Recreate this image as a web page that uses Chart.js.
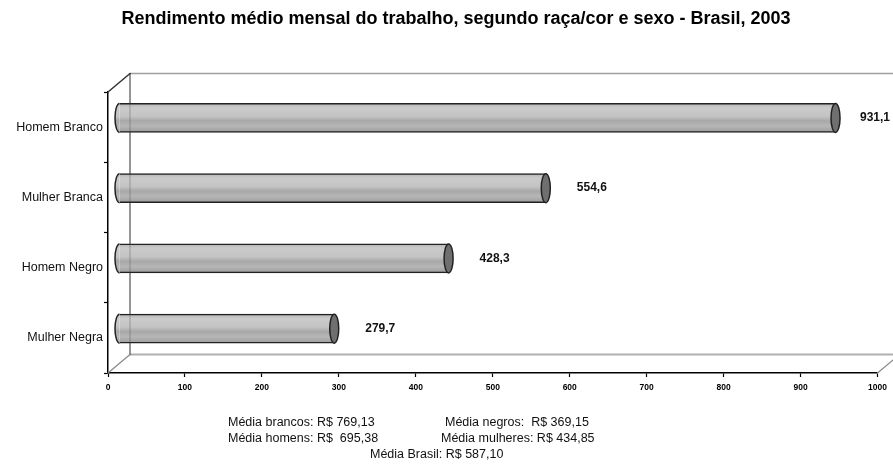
<!DOCTYPE html>
<html lang="pt-BR">
<head>
<meta charset="utf-8">
<title>Rendimento médio mensal do trabalho</title>
<script src="https://cdn.jsdelivr.net/npm/chart.js@4.4.1/dist/chart.umd.min.js"></script>
<style>
    html, body { margin: 0; padding: 0; background: #fff; }
    #wrap { width: 893px; height: 466px; position: relative; }
</style>
</head>
<body>
<div id="wrap"><canvas id="grafico" width="893" height="466"></canvas></div>
<script>
// Dados do gráfico
const titulo = 'Rendimento médio mensal do trabalho, segundo raça/cor e sexo - Brasil, 2003';
const categorias = ['Homem Branco', 'Mulher Branca', 'Homem Negro', 'Mulher Negra'];
const rendimentos = [931.1, 554.6, 428.3, 279.7];
const eixoMin = 0;
const eixoMax = 1000;
const eixoPasso = 100;
const notasEsquerda = ['Média brancos: R$ 769,13', 'Média homens: R$  695,38'];
const notasDireita = ['Média negros:  R$ 369,15', 'Média mulheres: R$ 434,85'];
const notaCentro = 'Média Brasil: R$ 587,10';

const FONTE = "'Liberation Sans', Arial, sans-serif";
const BARRA_ALTURA = 29;
const PROF_X = 22;      // profundidade do efeito 3D
const PROF_Y = -18.5;
const CAP_RX = 4.5;

function gradienteBarra(ctx, topo, base) {
    const g = ctx.createLinearGradient(0, topo, 0, base);
    g.addColorStop(0, '#b4b4b4');
    g.addColorStop(0.15, '#cbcbcb');
    g.addColorStop(0.45, '#c3c3c3');
    g.addColorStop(0.6, '#a8a8a8');
    g.addColorStop(0.78, '#b6b6b6');
    g.addColorStop(1, '#9c9c9c');
    return g;
}

function formatar(v) {
    return v.toFixed(1).replace('.', ',');
}

// Paredes e chão do efeito 3D + cilindros
const cena3d = {
    id: 'cena3d',
    beforeDatasetsDraw(chart) {
        const ctx = chart.ctx;
        const a = chart.chartArea;
        ctx.save();
        ctx.lineCap = 'round';
        // parede do fundo
        ctx.strokeStyle = '#a0a0a0';
        ctx.lineWidth = 1.5;
        ctx.beginPath();
        ctx.moveTo(a.left + PROF_X, a.top + PROF_Y);
        ctx.lineTo(a.right + PROF_X, a.top + PROF_Y);
        ctx.stroke();
        ctx.strokeStyle = '#b0b0b0';
        ctx.lineWidth = 2;
        ctx.beginPath();
        ctx.moveTo(a.left + PROF_X, a.bottom + PROF_Y);
        ctx.lineTo(a.right + PROF_X, a.bottom + PROF_Y);
        ctx.stroke();
        ctx.strokeStyle = '#555';
        ctx.lineWidth = 1;
        ctx.beginPath();
        ctx.moveTo(a.left + PROF_X, a.top + PROF_Y);
        ctx.lineTo(a.left + PROF_X, a.bottom + PROF_Y);
        ctx.stroke();
        // diagonais
        ctx.strokeStyle = '#333';
        ctx.lineWidth = 1.5;
        ctx.beginPath();
        ctx.moveTo(a.left, a.top);
        ctx.lineTo(a.left + PROF_X, a.top + PROF_Y);
        ctx.stroke();
        ctx.strokeStyle = '#888';
        ctx.lineWidth = 1.2;
        ctx.beginPath();
        ctx.moveTo(a.left, a.bottom);
        ctx.lineTo(a.left + PROF_X, a.bottom + PROF_Y);
        ctx.moveTo(a.right, a.bottom);
        ctx.lineTo(a.right + PROF_X, a.bottom + PROF_Y);
        ctx.stroke();
        ctx.restore();

        // barras ficam no meio da profundidade
        ctx.save();
        ctx.translate(PROF_X / 2, PROF_Y / 2);
    },
    afterDatasetsDraw(chart) {
        const ctx = chart.ctx;
        const meta = chart.getDatasetMeta(0);
        meta.data.forEach(function(el) {
            const p = el.getProps(['x', 'y', 'base', 'height'], true);
            const ry = p.height / 2;
            // ponta esquerda arredondada
            ctx.beginPath();
            ctx.ellipse(p.base, p.y, CAP_RX, ry, 0, Math.PI / 2, Math.PI * 3 / 2);
            ctx.fillStyle = gradienteBarra(ctx, p.y - ry, p.y + ry);
            ctx.fill();
            ctx.strokeStyle = '#222';
            ctx.lineWidth = 1.5;
            ctx.stroke();
            // tampa da direita
            ctx.beginPath();
            ctx.ellipse(p.x, p.y, CAP_RX, ry, 0, 0, Math.PI * 2);
            ctx.fillStyle = '#6f6f6f';
            ctx.fill();
            ctx.stroke();
        });
        ctx.restore();

        // linha da parede vista através das barras
        const a = chart.chartArea;
        ctx.save();
        ctx.strokeStyle = 'rgba(60,60,60,0.35)';
        ctx.lineWidth = 1;
        ctx.beginPath();
        ctx.moveTo(a.left + PROF_X, a.top + PROF_Y);
        ctx.lineTo(a.left + PROF_X, a.bottom + PROF_Y);
        ctx.stroke();

        // rótulos de valor
        ctx.font = 'bold 12px ' + FONTE;
        ctx.fillStyle = '#111';
        ctx.textBaseline = 'middle';
        meta.data.forEach(function(el, i) {
            const txt = formatar(rendimentos[i]);
            const w = ctx.measureText(txt).width;
            let x = el.x + PROF_X / 2 + 31;
            if (x + w > chart.width - 3) x = chart.width - 3 - w;
            ctx.fillText(txt, x, el.y + PROF_Y / 2);
        });
        ctx.restore();
    },
    afterDraw(chart) {
        const ctx = chart.ctx;
        ctx.save();
        // título
        ctx.font = 'bold 18px ' + FONTE;
        ctx.fillStyle = '#000';
        ctx.textAlign = 'center';
        ctx.textBaseline = 'middle';
        ctx.fillText(titulo, 456, 19);
        // médias
        ctx.font = '12.5px ' + FONTE;
        ctx.fillStyle = '#111';
        ctx.textAlign = 'left';
        ctx.fillText(notasEsquerda[0], 228, 423);
        ctx.fillText(notasEsquerda[1], 228, 439);
        ctx.fillText(notasDireita[0], 445, 423);
        ctx.fillText(notasDireita[1], 441, 439);
        ctx.fillText(notaCentro, 370, 455);
        ctx.restore();
    }
};

const ctx = document.getElementById('grafico');

new Chart(ctx, {
    type: 'bar',
    data: {
        labels: categorias,
        datasets: [{
            data: rendimentos,
            barThickness: BARRA_ALTURA,
            backgroundColor: function(c) {
                const ys = c.chart.scales && c.chart.scales.y;
                if (!ys || c.dataIndex == null) return '#b8b8b8';
                const yc = ys.getPixelForValue(c.dataIndex);
                if (!Number.isFinite(yc)) return '#b8b8b8';
                return gradienteBarra(c.chart.ctx, yc - BARRA_ALTURA / 2, yc + BARRA_ALTURA / 2);
            },
            borderColor: '#222',
            borderWidth: { top: 1.5, bottom: 1.5, left: 0, right: 0 },
            borderSkipped: false
        }]
    },
    options: {
        indexAxis: 'y',
        responsive: false,
        animation: false,
        layout: { padding: { left: 0, right: 13, top: 92, bottom: 0 } },
        plugins: {
            legend: { display: false },
            tooltip: { enabled: false },
            title: { display: false }
        },
        scales: {
            x: {
                min: eixoMin,
                max: eixoMax,
                afterFit: function(s) { s.height = 93; },
                ticks: {
                    stepSize: eixoPasso,
                    color: '#000',
                    padding: 6,
                    maxRotation: 0,
                    font: { family: FONTE, size: 8.5, weight: 'bold' },
                    callback: function(v) { return String(v); }
                },
                grid: {
                    drawOnChartArea: false,
                    tickLength: 4,
                    tickColor: '#000',
                    tickWidth: 1.2
                },
                border: { display: true, color: '#000', width: 1.5 }
            },
            y: {
                afterFit: function(s) { s.width = 108; },
                ticks: {
                    color: '#111',
                    padding: 1,
                    font: { family: FONTE, size: 12.5 }
                },
                grid: {
                    offset: true,
                    drawOnChartArea: false,
                    tickLength: 4,
                    tickColor: '#000',
                    tickWidth: 1.2
                },
                border: { display: true, color: '#000', width: 1.5 }
            }
        }
    },
    plugins: [cena3d]
});
</script>
</body>
</html>
